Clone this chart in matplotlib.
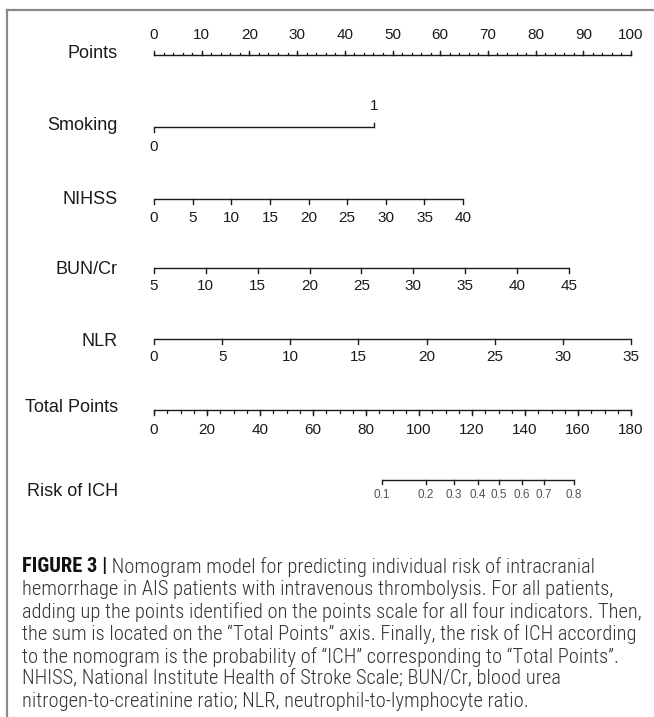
import matplotlib
matplotlib.use("Agg")
import matplotlib.pyplot as plt
from matplotlib import font_manager
from matplotlib.lines import Line2D

# nomogram scales (values -> points on the 0-100 "Points" axis)
points_ticks = [0, 10, 20, 30, 40, 50, 60, 70, 80, 90, 100]
smoking_vals = [0, 1]
smoking_pts = [0, 46.1]
nihss_ticks = [0, 5, 10, 15, 20, 25, 30, 35, 40]
nihss_max_pts = 64.8
bun_ticks = [5, 10, 15, 20, 25, 30, 35, 40, 45]
bun_max_pts = 87.0
nlr_ticks = [0, 5, 10, 15, 20, 25, 30, 35]
nlr_max_pts = 100.0
total_ticks = [0, 20, 40, 60, 80, 100, 120, 140, 160, 180]
risk_ticks = [0.1, 0.2, 0.3, 0.4, 0.5, 0.6, 0.7, 0.8]
risk_total = [86.0, 102.6, 113.2, 122.3, 130.2, 138.9, 147.2, 158.5]

caption_lines = [
    "Nomogram model for predicting individual risk of intracranial",
    "hemorrhage in AIS patients with intravenous thrombolysis. For all patients,",
    "adding up the points identified on the points scale for all four indicators. Then,",
    "the sum is located on the \u201cTotal Points\u201d axis. Finally, the risk of ICH according",
    "to the nomogram is the probability of \u201cICH\u201d corresponding to \u201cTotal Points\u201d.",
    "NHISS, National Institute Health of Stroke Scale; BUN/Cr, blood urea",
    "nitrogen-to-creatinine ratio; NLR, neutrophil-to-lymphocyte ratio.",
]

W, H = 654, 717
fig = plt.figure(figsize=(W / 100, H / 100), dpi=100)
ax = fig.add_axes([0, 0, 1, 1])
# x in "points" units: 0 -> px 154, 100 -> px 631 ; y in pixel rows
px0, pxw = 154, 477 / 100
ax.set_xlim(-px0 / pxw, (W - px0) / pxw)
ax.set_ylim(H, 0)
ax.axis("off")

label_font = "Liberation Sans"
ink = "#1a1a1a"


def draw_scale(y, pos, labels, tick_dir=1, label_dy=19, minor=None,
               size=11, color=ink, tick_len=4.5, minor_len=2.5, label_pos=None):
    ax.plot([min(pos), max(pos)], [y, y], color=ink, lw=1.0, solid_capstyle="butt")
    dirs = tick_dir if isinstance(tick_dir, list) else [tick_dir] * len(pos)
    for p, d in zip(pos, dirs):
        ax.plot([p, p], [y, y + d * tick_len], color=ink, lw=1.0)
    if minor is not None:
        for p in minor:
            ax.plot([p, p], [y, y + tick_dir * minor_len], color=ink, lw=0.9)
    lp = label_pos if label_pos is not None else [label_dy] * len(pos)
    for p, lab, dy in zip(pos, labels, lp):
        ax.text(p, y + dy, lab, ha="center", va="center", fontsize=size,
                color=color, family=label_font)


def var_label(y, text):
    ax.text(-7.6, y, text, ha="right", va="center", fontsize=13, color=ink,
            family=label_font)


# Points
var_label(54, "Points")
draw_scale(55, points_ticks, [str(v) for v in points_ticks], tick_dir=-1,
           label_dy=-20, minor=[v for v in range(0, 101, 2)])

# Smoking
var_label(125, "Smoking")
draw_scale(127, smoking_pts, [str(v) for v in smoking_vals], tick_dir=[1, -1],
           label_pos=[20, -21])

# NIHSS
var_label(199, "NIHSS")
draw_scale(199, [v / 40 * nihss_max_pts for v in nihss_ticks],
           [str(v) for v in nihss_ticks], label_dy=19)

# BUN/Cr
var_label(269, "BUN/Cr")
draw_scale(268, [(v - 5) / 40 * bun_max_pts for v in bun_ticks],
           [str(v) for v in bun_ticks], label_dy=18)

# NLR
var_label(342, "NLR")
draw_scale(339, [v / 35 * nlr_max_pts for v in nlr_ticks],
           [str(v) for v in nlr_ticks], label_dy=18)

# Total Points
var_label(408, "Total Points")
draw_scale(410, [v / 180 * 100 for v in total_ticks],
           [str(v) for v in total_ticks], label_dy=20,
           minor=[v / 180 * 100 for v in range(0, 181, 5)])

# Risk of ICH
var_label(491, "Risk of ICH")
draw_scale(480, [v / 180 * 100 for v in risk_total],
           [f"{v:.1f}" for v in risk_ticks], label_dy=15, size=8.5,
           color="#555555", tick_len=3.5)

# frame (top and left rules)
fig.add_artist(Line2D([7 / W, 7 / W], [0, 1 - 10 / H], transform=fig.transFigure,
                      color="#8a8a8a", lw=1.6))
fig.add_artist(Line2D([7 / W, 1], [1 - 10 / H, 1 - 10 / H], transform=fig.transFigure,
                      color="#8a8a8a", lw=1.6))

# caption: prefer a condensed face, like the journal's
fonts = font_manager.fontManager.ttflist
names = {f.name for f in fonts}
cap_font, cap_stretch = "Liberation Sans", "normal"
if "Liberation Sans Narrow" in names:
    cap_font = "Liberation Sans Narrow"
elif "Roboto Condensed" in names:
    cap_font = "Roboto Condensed"
elif any(f.name == "DejaVu Sans" and "condensed" in str(f.stretch) for f in fonts):
    cap_font, cap_stretch = "DejaVu Sans", "condensed"

renderer = fig.canvas.get_renderer()
probe = fig.text(0, 0, caption_lines[2], fontsize=10, family=cap_font,
                 stretch=cap_stretch, weight="light")
probe_w = probe.get_window_extent(renderer).width
probe.remove()
cap_size = 10 * 618 / probe_w

cap_x = 22 / W
cap_y0, cap_step = 567, 22.4
for i, line in enumerate(caption_lines):
    yy = 1 - (cap_y0 + i * cap_step) / H
    if i == 0:
        t = fig.text(cap_x, yy, "FIGURE 3 |", fontsize=cap_size, family=cap_font,
                     stretch=cap_stretch, weight="bold", color="#111111", va="center")
        ax.annotate(" " + line, xy=(1, 0.5), xycoords=t, va="center", ha="left",
                    fontsize=cap_size, family=cap_font, stretch=cap_stretch,
                    weight="light", color="#333333", annotation_clip=False)
    else:
        fig.text(cap_x, yy, line, fontsize=cap_size, family=cap_font,
                 stretch=cap_stretch, weight="light", color="#333333", va="center")

fig.savefig("out.png", dpi=100)
